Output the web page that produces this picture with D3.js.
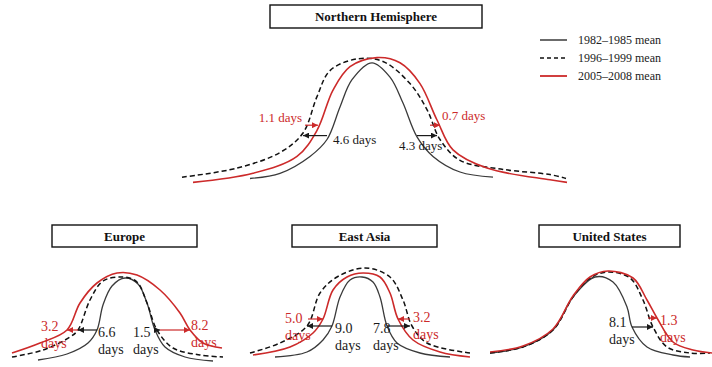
<!DOCTYPE html>
<html>
<head>
<meta charset="utf-8">
<script src="https://cdn.jsdelivr.net/npm/d3@7"></script>
<style>
body { margin: 0; background: #fff; }
svg { display: block; }
text { font-family: "Liberation Serif", "Times New Roman", serif; }
</style>
</head>
<body>
<div id="vis"></div>
<script>
// curves: [relative day, relative greenness]
var nhBase = [[17.5,0.05],[25,0.09],[32.5,0.22],[36.75,0.35],[40,0.6],[43,0.81],[48,0.94],[52.5,0.83],[55.75,0.63],[59.25,0.37],[63.25,0.22],[70,0.1],[78.25,0.06]];
var nhMid = [[0.5,0.06],[14.25,0.13],[25,0.25],[30.75,0.4],[34.25,0.68],[37.5,0.88],[44.25,0.97],[50.75,0.95],[57.5,0.78],[61.75,0.58],[65,0.35],[70,0.19],[80.75,0.12],[92.5,0.08],[96.5,0.05]];
var nhRecent = [[3.25,0.02],[18.25,0.09],[29.25,0.22],[34.25,0.42],[38.25,0.73],[42.5,0.91],[49.25,0.98],[55,0.94],[60,0.78],[64.25,0.5],[68.25,0.27],[76.75,0.13],[92.5,0.04],[96.75,0.02]];

var euBase = [[15.2,0.05],[26.8,0.11],[35.2,0.22],[38.8,0.35],[41.2,0.6],[44.8,0.79],[50,0.87],[55.2,0.81],[58.8,0.62],[62,0.35],[66,0.18],[74,0.08],[85.2,0.04]];
var euMid = [[4.8,0.08],[17.2,0.15],[28,0.28],[31.2,0.35],[36,0.65],[41.2,0.84],[49.2,0.88],[54.8,0.83],[58.8,0.62],[62.8,0.35],[69.2,0.17],[80,0.1],[89.2,0.08]];
var euRecent = [[4.8,0.12],[16,0.22],[26.8,0.35],[32,0.62],[38.8,0.82],[46.8,0.92],[54.8,0.9],[64,0.75],[72,0.52],[76,0.35],[81.2,0.22],[88.8,0.17]];

var eaBase = [[14,0.08],[26.8,0.13],[33.2,0.25],[36.8,0.39],[40,0.68],[44,0.85],[48.8,0.88],[53.2,0.83],[56,0.68],[58.8,0.39],[62.8,0.22],[72,0.12],[84,0.08]];
var eaMid = [[4,0.12],[16,0.22],[26.8,0.39],[32,0.72],[38.8,0.88],[50,0.97],[60,0.88],[65.2,0.65],[68.8,0.39],[74.8,0.22],[92,0.12]];
var eaRecent = [[5.2,0.1],[20,0.18],[29.2,0.32],[33.2,0.46],[37.2,0.75],[42.8,0.88],[49.2,0.92],[56,0.88],[60,0.72],[63.2,0.46],[69.2,0.25],[80,0.13],[92,0.08]];

var usBase = [[4,0.12],[17.2,0.18],[29.2,0.35],[37.2,0.68],[46,0.88],[53.2,0.83],[58.8,0.58],[60.8,0.38],[66.8,0.18],[77.2,0.1],[84,0.08]];
var usMid = [[4,0.12],[17.2,0.18],[29.2,0.35],[37.2,0.68],[44,0.87],[51.2,0.93],[60,0.87],[65.2,0.65],[69.2,0.38],[74.8,0.18],[84,0.12],[92,0.12]];
var usRecent = [[4,0.13],[17.2,0.19],[29.2,0.36],[37.2,0.69],[44,0.88],[51.2,0.94],[61.2,0.87],[66.8,0.65],[70.8,0.47],[77.2,0.23],[85.2,0.15],[92.8,0.12]];

// shifts: [from day, to day, level, series]
var nhShifts = [[31.25,34.5,0.46,'red'],[36.75,30.75,0.38,'black'],[59.25,64.25,0.38,'black'],[62.5,65,0.46,'red']];
var euShifts = [[38.8,31.2,0.35,'black'],[31.2,26.8,0.35,'red'],[62,64,0.35,'black'],[64,76,0.35,'red']];
var eaShifts = [[27.2,33.2,0.46,'red'],[36.8,26.8,0.39,'black'],[58.8,68,0.39,'black'],[68,63.2,0.46,'red']];
var usShifts = [[60.8,69.2,0.38,'black'],[67.2,70.8,0.47,'red']];

var legendLabels = ['1982\u20131985 mean', '1996\u20131999 mean', '2005\u20132008 mean'];

var width = 712, height = 367;
var colours = { base: '#3a3a3a', mid: '#111', recent: '#cc2a2a', black: '#1a1a1a', red: '#cc2a2a' };

var svg = d3.select('#vis')
  .append('svg')
  .attr('width', width)
  .attr('height', height);

var defs = svg.append('defs');
['black', 'red'].forEach(function(c) {
  defs.append('marker')
    .attr('id', 'head-' + c)
    .attr('viewBox', '0 0 6 6')
    .attr('refX', 6).attr('refY', 3)
    .attr('markerWidth', 6).attr('markerHeight', 6)
    .attr('markerUnits', 'userSpaceOnUse')
    .attr('orient', 'auto')
    .append('path')
    .attr('d', 'M0,0 L6,3 L0,6 z')
    .attr('fill', colours[c]);
});

var panels = [
  { title: 'Northern Hemisphere', box: [270, 5, 212, 23], xr: [180, 580], yr: [185, 55], fs: 13,
    curves: [nhBase, nhMid, nhRecent], shifts: nhShifts,
    labels: [
      { t: ['1.1 days'], x: 302, y: 122, c: 'red', a: 'end' },
      { t: ['4.6 days'], x: 333, y: 144, c: 'black', a: 'start' },
      { t: ['4.3 days'], x: 399, y: 150, c: 'black', a: 'start' },
      { t: ['0.7 days'], x: 442, y: 120, c: 'red', a: 'start' }
    ] },
  { title: 'Europe', box: [52, 225, 145, 22], xr: [0, 250], yr: [365, 265], fs: 14,
    curves: [euBase, euMid, euRecent], shifts: euShifts,
    labels: [
      { t: ['3.2', 'days'], x: 41, y: 331, c: 'red', a: 'start' },
      { t: ['6.6', 'days'], x: 98, y: 337, c: 'black', a: 'start' },
      { t: ['1.5', 'days'], x: 133, y: 337, c: 'black', a: 'start' },
      { t: ['8.2', 'days'], x: 191, y: 330, c: 'red', a: 'start' }
    ] },
  { title: 'East Asia', box: [292, 225, 145, 22], xr: [240, 490], yr: [365, 265], fs: 14,
    curves: [eaBase, eaMid, eaRecent], shifts: eaShifts,
    labels: [
      { t: ['5.0', 'days'], x: 285, y: 323, c: 'red', a: 'start' },
      { t: ['9.0', 'days'], x: 335, y: 333, c: 'black', a: 'start' },
      { t: ['7.8', 'days'], x: 373, y: 333, c: 'black', a: 'start' },
      { t: ['3.2', 'days'], x: 413, y: 322, c: 'red', a: 'start' }
    ] },
  { title: 'United States', box: [539, 225, 141, 22], xr: [480, 730], yr: [365, 265], fs: 14,
    curves: [usBase, usMid, usRecent], shifts: usShifts,
    labels: [
      { t: ['8.1', 'days'], x: 609, y: 327, c: 'black', a: 'start' },
      { t: ['1.3', 'days'], x: 660, y: 325, c: 'red', a: 'start' }
    ] }
];

var styles = [
  { key: 'base', dash: null, w: 1.3 },
  { key: 'mid', dash: '5,3', w: 1.5 },
  { key: 'recent', dash: null, w: 1.6 }
];

panels.forEach(function(p) {
  var g = svg.append('g');
  var x = d3.scaleLinear().domain([0, 100]).range(p.xr);
  var y = d3.scaleLinear().domain([0, 1]).range(p.yr);
  var line = d3.line()
    .x(function(d) { return x(d[0]); })
    .y(function(d) { return y(d[1]); })
    .curve(d3.curveCatmullRom.alpha(0.5));

  g.append('rect')
    .attr('x', p.box[0]).attr('y', p.box[1])
    .attr('width', p.box[2]).attr('height', p.box[3])
    .attr('fill', '#fff').attr('stroke', '#111').attr('stroke-width', 1.4);
  g.append('text')
    .attr('x', p.box[0] + p.box[2] / 2).attr('y', p.box[1] + p.box[3] / 2 + 4.5)
    .attr('text-anchor', 'middle')
    .attr('font-weight', 'bold')
    .attr('font-size', 13)
    .attr('fill', '#111')
    .text(p.title);

  p.curves.forEach(function(c, i) {
    g.append('path')
      .attr('d', line(c))
      .attr('fill', 'none')
      .attr('stroke', colours[styles[i].key])
      .attr('stroke-width', styles[i].w)
      .attr('stroke-dasharray', styles[i].dash);
  });

  g.selectAll('.shift')
    .data(p.shifts)
    .enter()
    .append('line')
    .attr('class', 'shift')
    .attr('x1', function(d) { return x(d[0]); })
    .attr('x2', function(d) { return x(d[1]); })
    .attr('y1', function(d) { return y(d[2]); })
    .attr('y2', function(d) { return y(d[2]); })
    .attr('stroke', function(d) { return colours[d[3]]; })
    .attr('stroke-width', 1.2)
    .attr('marker-end', function(d) { return 'url(#head-' + d[3] + ')'; });

  p.labels.forEach(function(l) {
    var t = g.append('text')
      .attr('x', l.x).attr('y', l.y)
      .attr('text-anchor', l.a)
      .attr('font-size', p.fs)
      .attr('fill', colours[l.c]);
    l.t.forEach(function(s, i) {
      t.append('tspan').attr('x', l.x).attr('dy', i === 0 ? 0 : 17).text(s);
    });
  });
});

// legend
var legend = svg.append('g').attr('transform', 'translate(540,40)');
legendLabels.forEach(function(s, i) {
  legend.append('line')
    .attr('x1', 0).attr('x2', 27)
    .attr('y1', i * 18).attr('y2', i * 18)
    .attr('stroke', colours[styles[i].key])
    .attr('stroke-width', styles[i].w + 0.2)
    .attr('stroke-dasharray', styles[i].dash ? '4,3' : null);
  legend.append('text')
    .attr('x', 38).attr('y', i * 18 + 4)
    .attr('font-size', 12)
    .attr('fill', '#222')
    .text(s);
});
</script>
</body>
</html>
